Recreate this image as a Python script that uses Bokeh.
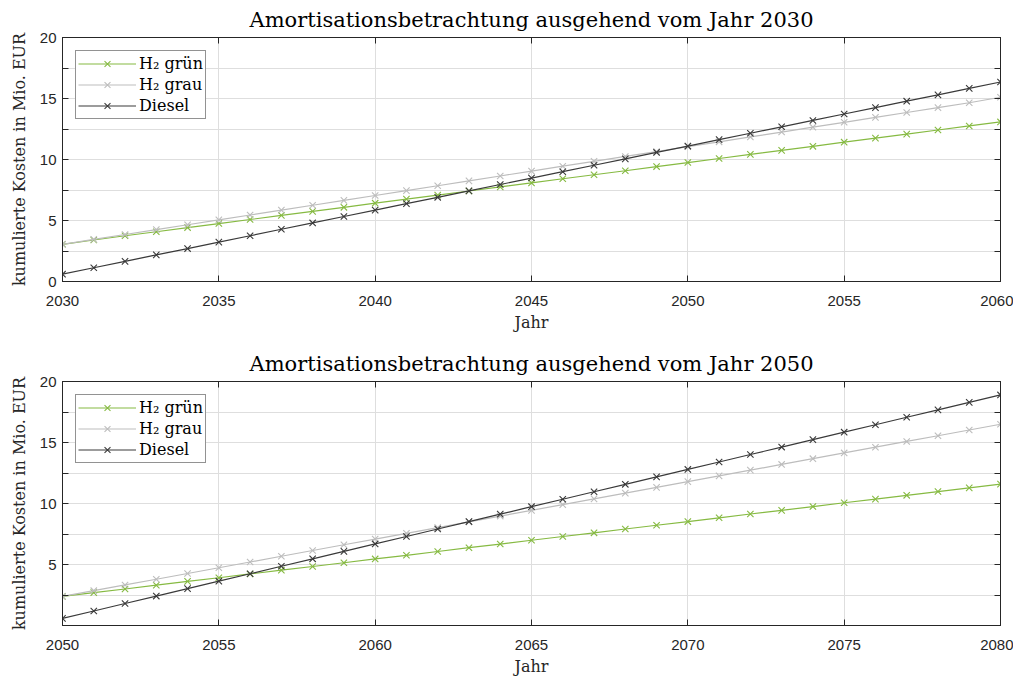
from bokeh.plotting import figure
from bokeh.layouts import column
from bokeh.models import Range1d, FixedTicker, LinearAxis, CustomJSTickFormatter
from bokeh.embed import file_html
from bokeh.resources import INLINE

# ---------------- data ----------------
years_a = list(range(2030, 2061))
gruen_a = [3.05, 3.40, 3.75, 4.08, 4.42, 4.75, 5.08, 5.42, 5.75, 6.08, 6.42,
           6.75, 7.08, 7.42, 7.75, 8.08, 8.42, 8.75, 9.08, 9.42, 9.75,
           10.08, 10.42, 10.75, 11.08, 11.42, 11.75, 12.08, 12.42, 12.75, 13.08]
grau_a = [3.05, 3.45, 3.85, 4.25, 4.65, 5.05, 5.45, 5.85, 6.25, 6.65, 7.05,
          7.45, 7.85, 8.25, 8.65, 9.05, 9.45, 9.85, 10.25, 10.65, 11.05,
          11.45, 11.85, 12.25, 12.65, 13.05, 13.45, 13.85, 14.25, 14.65, 15.10]
diesel_a = [0.60, 1.13, 1.65, 2.18, 2.70, 3.23, 3.75, 4.28, 4.80, 5.33, 5.85,
            6.38, 6.90, 7.43, 7.95, 8.48, 9.00, 9.53, 10.05, 10.58, 11.10,
            11.63, 12.15, 12.68, 13.20, 13.73, 14.25, 14.78, 15.30, 15.83, 16.35]

years_b = list(range(2050, 2081))
gruen_b = [2.40, 2.71, 3.01, 3.32, 3.63, 3.93, 4.24, 4.55, 4.85, 5.16, 5.47,
           5.77, 6.08, 6.39, 6.69, 7.00, 7.31, 7.61, 7.92, 8.23, 8.53,
           8.84, 9.15, 9.45, 9.76, 10.07, 10.37, 10.68, 10.99, 11.29, 11.60]
grau_b = [2.40, 2.87, 3.34, 3.81, 4.28, 4.75, 5.22, 5.69, 6.16, 6.63, 7.10,
          7.57, 8.04, 8.51, 8.98, 9.45, 9.92, 10.39, 10.86, 11.33, 11.80,
          12.27, 12.74, 13.21, 13.68, 14.15, 14.62, 15.09, 15.56, 16.03, 16.50]
diesel_b = [0.60, 1.21, 1.82, 2.43, 3.04, 3.65, 4.26, 4.87, 5.48, 6.09, 6.70,
            7.31, 7.92, 8.53, 9.14, 9.75, 10.36, 10.97, 11.58, 12.19, 12.80,
            13.41, 14.02, 14.63, 15.24, 15.85, 16.46, 17.07, 17.68, 18.29, 18.90]

series_labels = ["H\u2082 gr\u00fcn", "H\u2082 grau", "Diesel"]
title_a = "Amortisationsbetrachtung ausgehend vom Jahr 2030"
title_b = "Amortisationsbetrachtung ausgehend vom Jahr 2050"
x_label = "Jahr"
y_label = "kumulierte Kosten in Mio. EUR"
y_ticks_a = [0, 5, 10, 15, 20]
y_ticks_b = [5, 10, 15, 20]
y_minor = [2.5, 7.5, 12.5, 17.5]

COLORS = ["#86ba42", "#bdbdbd", "#3a3a3a"]
SERIF = "DejaVu Serif"
SANS = "Liberation Sans"
AX = "#262626"


def box_axis(ticker, **kw):
    return LinearAxis(ticker=ticker, formatter=CustomJSTickFormatter(code="return ''"),
                      major_tick_in=6, major_tick_out=0, minor_tick_in=6, minor_tick_out=0,
                      axis_line_color=AX, major_tick_line_color=AX,
                      minor_tick_line_color=AX, major_label_text_font_size="1px",
                      major_label_standoff=0, **kw)


def make(years, g, gr, d, title, yticks, ymin, top_border, bottom_border):
    p = figure(frame_width=938, frame_height=244,
               x_range=Range1d(years[0], years[-1]), y_range=Range1d(ymin, 20),
               output_backend="svg", toolbar_location=None, title=title,
               min_border_left=62, min_border_right=13,
               min_border_top=top_border, min_border_bottom=bottom_border)
    p.title.align = "center"
    p.title.text_font = SERIF
    p.title.text_font_size = "21px"
    p.title.text_font_style = "normal"
    p.title.text_color = "black"
    p.title.standoff = 11
    p.outline_line_color = AX
    p.outline_line_width = 1
    p.outline_line_alpha = 1

    xt = FixedTicker(ticks=list(range(years[0], years[-1] + 1, 5)))
    yt = FixedTicker(ticks=yticks, minor_ticks=y_minor)
    p.xaxis.ticker = xt
    p.yaxis.ticker = yt
    for ax in (p.xaxis[0], p.yaxis[0]):
        ax.major_tick_in = 6
        ax.major_tick_out = 0
        ax.minor_tick_in = 6
        ax.minor_tick_out = 0
        ax.axis_line_color = AX
        ax.major_tick_line_color = AX
        ax.minor_tick_line_color = AX
        ax.major_label_text_font = SANS
        ax.major_label_text_font_size = "15px"
        ax.major_label_text_color = AX
        ax.axis_label_text_font = SERIF
        ax.axis_label_text_font_style = "normal"
        ax.axis_label_text_font_size = "16px"
        ax.axis_label_text_color = AX
    p.xaxis.axis_label = x_label
    p.yaxis.axis_label = y_label
    p.xaxis.major_label_standoff = 14
    p.xaxis.axis_label_standoff = 4
    p.yaxis.major_label_standoff = 6
    p.yaxis.axis_label_standoff = 8

    p.add_layout(box_axis(yt), "right")
    p.add_layout(box_axis(xt), "above")

    p.xgrid.grid_line_color = "#dedede"
    p.ygrid.grid_line_color = "#dedede"
    p.ygrid.minor_grid_line_color = "#dedede"
    p.xgrid.grid_line_width = 1
    p.ygrid.grid_line_width = 1

    for vals, col, lab in zip([g, gr, d], COLORS, series_labels):
        p.line(years, vals, line_color=col, line_width=1.2, legend_label=lab)
        p.scatter(years, vals, marker="x", size=9, line_color=col, line_width=1.1,
                  legend_label=lab)

    lg = p.legend[0]
    lg.location = "top_left"
    lg.margin = 13
    lg.padding = 2
    lg.spacing = 0
    lg.label_height = 21
    lg.glyph_height = 21
    lg.glyph_width = 58
    lg.label_standoff = 3
    lg.label_text_font = SERIF
    lg.label_text_font_size = "16px"
    lg.label_text_color = "black"
    lg.border_line_color = AX
    lg.border_line_width = 1
    lg.background_fill_alpha = 1
    return p


pa = make(years_a, gruen_a, grau_a, diesel_a, title_a, y_ticks_a, 0, 37, 62)
pb = make(years_b, gruen_b, grau_b, diesel_b, title_b, y_ticks_b, 0.02, 38, 50)

layout = column(pa, pb, spacing=0)
open("out.html", "w").write(file_html(layout, INLINE))
